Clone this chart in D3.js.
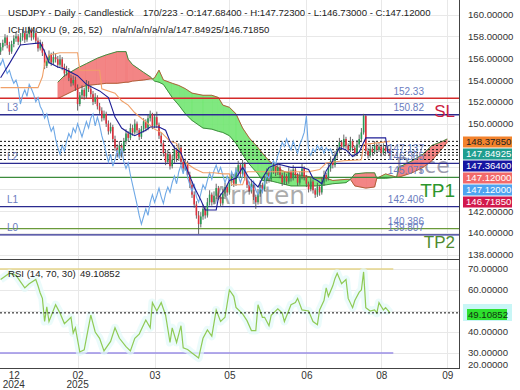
<!DOCTYPE html>
<html><head><meta charset="utf-8">
<script src="https://cdn.jsdelivr.net/npm/d3@7/dist/d3.min.js"></script>
<style>body{margin:0;background:#fff}svg{display:block;font-family:"Liberation Sans",Arial,sans-serif}</style>
</head><body><svg id="c" width="520" height="390"></svg>
<script>
// ---------- DATA ----------
const opens=[156.6,157.0,157.4,157.9,157.2,156.6,157.3,157.8,158.0,157.5,
157.9,158.3,157.7,158.2,158.6,157.9,158.3,157.6,156.9,157.3,
156.5,155.3,155.8,156.3,155.6,156.1,155.9,155.4,155.9,155.2,
154.6,154.9,154.2,153.7,154.0,153.3,151.8,152.6,153.1,152.5,
153.6,153.2,152.7,152.0,152.4,151.6,151.2,150.5,150.9,150.0,
149.3,149.7,148.6,147.8,147.2,148.0,147.5,148.4,149.1,148.7,
149.6,149.2,150.0,149.4,148.8,149.5,150.2,149.6,150.5,150.9,
149.8,150.6,149.9,148.9,148.2,147.3,146.5,147.2,146.1,146.7,
147.6,146.8,147.8,146.5,145.9,146.4,145.3,144.4,143.5,142.6,
141.6,140.8,141.5,142.2,141.6,142.8,143.5,142.8,143.4,144.1,
143.3,142.7,143.6,144.2,143.7,144.6,145.2,144.5,145.6,146.2,
145.4,146.3,145.1,144.4,143.8,144.5,143.3,142.8,143.6,144.4,
144.0,144.8,145.5,144.9,145.7,146.2,145.5,146.0,145.3,144.6,
145.2,144.7,145.6,145.0,145.8,145.3,144.6,145.2,145.9,145.1,
144.5,144.0,144.7,143.9,143.5,144.2,143.7,144.6,145.3,145.0,
145.9,146.6,146.2,147.1,147.6,148.3,147.9,148.6,148.0,147.6,
148.4,147.8,147.3,148.1,148.6,149.2,150.7,147.5,147.1,147.7,
147.4,148.0,147.6,147.9,147.3,147.8,147.5,147.684];
const highs=[157.4,157.7,158.2,158.1,157.5,157.6,158.1,158.4,158.2,158.3,
158.6,158.5,158.5,158.9,158.8,158.6,158.5,157.9,157.7,157.5,
156.8,156.1,156.7,156.5,156.6,156.4,156.2,156.3,156.1,155.5,
155.3,155.1,154.5,154.4,154.3,153.6,152.9,153.5,153.3,154.0,
153.9,153.5,153.0,152.8,152.6,151.9,151.5,151.2,151.1,150.3,
150.1,149.9,148.9,148.1,148.4,148.2,148.7,149.5,149.3,150.0,
149.9,150.4,150.2,149.6,149.8,150.5,150.4,150.8,151.2,151.0,
150.9,151.1,150.1,149.2,148.5,147.6,147.6,147.4,147.1,148.0,
147.8,148.2,148.0,146.8,146.8,146.6,145.6,144.7,143.8,142.9,
142.0,141.9,142.6,142.4,143.2,143.9,143.7,143.8,144.5,144.3,
143.6,144.0,144.6,144.4,145.0,145.6,145.4,146.0,146.6,146.4,
146.7,146.5,145.3,144.7,144.9,144.7,143.5,144.0,144.8,144.6,
145.2,145.9,145.7,146.1,146.6,146.4,146.4,146.2,145.5,145.6,
145.4,146.0,145.8,146.2,146.0,145.5,145.6,146.3,146.1,145.3,
144.7,145.1,144.9,144.1,144.6,144.4,145.0,145.7,145.5,146.3,
147.0,146.8,147.5,148.0,148.7,148.5,149.0,148.8,148.2,148.8,
148.6,148.0,148.5,149.0,149.6,150.9,150.8,147.8,148.1,147.9,
148.4,148.2,148.3,148.1,148.2,148.0,148.0,147.723];
const lows=[156.3,156.7,157.1,156.9,156.3,156.4,157.0,157.5,157.2,157.2,
157.6,157.4,157.5,157.9,157.6,157.7,157.3,156.6,156.7,156.2,
155.0,155.1,155.5,155.3,155.4,155.6,155.1,155.2,154.9,154.3,
154.4,153.9,153.4,153.5,153.0,151.2,151.6,152.3,152.2,152.3,
152.9,152.4,151.7,151.8,151.3,150.9,150.2,150.3,149.7,149.0,
149.1,148.3,147.5,146.9,147.0,146.9,147.3,148.1,148.4,148.5,
148.9,149.0,149.1,148.5,148.6,149.2,149.3,149.4,150.2,149.5,
149.6,149.6,148.6,147.9,147.0,146.2,146.3,145.8,145.9,146.4,
146.5,146.6,146.2,145.6,145.7,145.0,144.1,143.2,142.3,141.3,
139.9,140.5,141.2,141.3,141.4,142.5,142.5,142.6,143.1,143.0,
142.4,142.5,143.3,143.4,143.5,144.3,144.2,144.3,145.3,145.1,
145.2,144.8,144.1,143.5,143.6,143.0,142.2,142.6,143.3,143.7,
143.8,144.5,144.6,144.7,145.4,145.2,145.3,145.0,144.3,144.4,
144.4,144.5,144.7,144.8,145.0,144.3,144.4,144.9,144.8,144.2,
143.7,143.8,143.6,143.2,143.3,143.4,143.5,144.3,144.7,144.8,
145.6,145.9,146.0,146.8,147.3,147.6,147.7,147.7,147.3,147.4,
147.5,147.0,147.1,147.8,148.3,149.0,147.2,146.8,146.9,147.1,
147.2,147.3,147.4,147.0,147.1,147.2,147.3,146.73];
const closes=[157.0,157.4,157.9,157.2,156.6,157.3,157.8,158.0,157.5,157.9,
158.3,157.7,158.2,158.6,157.9,158.3,157.6,156.9,157.3,156.5,
155.3,155.8,156.3,155.6,156.1,155.9,155.4,155.9,155.2,154.6,
154.9,154.2,153.7,154.0,153.3,151.8,152.6,153.1,152.5,153.6,
153.2,152.7,152.0,152.4,151.6,151.2,150.5,150.9,150.0,149.3,
149.7,148.6,147.8,147.2,148.0,147.5,148.4,149.1,148.7,149.6,
149.2,150.0,149.4,148.8,149.5,150.2,149.6,150.5,150.9,149.8,
150.6,149.9,148.9,148.2,147.3,146.5,147.2,146.1,146.7,147.6,
146.8,147.8,146.5,145.9,146.4,145.3,144.4,143.5,142.6,141.6,
140.8,141.5,142.2,141.6,142.8,143.5,142.8,143.4,144.1,143.3,
142.7,143.6,144.2,143.7,144.6,145.2,144.5,145.6,146.2,145.4,
146.3,145.1,144.4,143.8,144.5,143.3,142.8,143.6,144.4,144.0,
144.8,145.5,144.9,145.7,146.2,145.5,146.0,145.3,144.6,145.2,
144.7,145.6,145.0,145.8,145.3,144.6,145.2,145.9,145.1,144.5,
144.0,144.7,143.9,143.5,144.2,143.7,144.6,145.3,145.0,145.9,
146.6,146.2,147.1,147.6,148.3,147.9,148.6,148.0,147.6,148.4,
147.8,147.3,148.1,148.6,149.2,150.7,147.5,147.1,147.7,147.4,
148.0,147.6,147.9,147.3,147.8,147.5,147.68,147.12];

// Ichimoku lines: [bar index, value]
const tenkan=[[0,154.2],[4,155.5],[9,157.2],[13,157.3],[18,157.4],[20,156.6],[22,155.6],[26,155.2],[29,155.0],[35,154.4],[39,153.6],[45,153.0],[49,152.4],[52,150.6],[55,149.6],[58,149.2],[61,148.9],[66,149.4],[68,149.7],[72,149.7],[75,149.4],[77,148.4],[79,147.8],[82,147.3],[84,146.2],[86,145.2],[88,144.2],[91,143.0],[93,142.1],[98,142.1],[99,143.2],[102,144.0],[104,144.8],[107,145.0],[110,146.0],[113,145.0],[117,144.2],[119,145.0],[122,146.0],[126,146.3],[132,146.0],[137,146.0],[140,145.8],[142,145.0],[144,144.8],[146,144.5],[148,145.7],[151,146.6],[154,147.8],[157,147.6],[160,147.0],[163,147.4],[166,148.7],[169,148.7],[175,148.7],[176,147.4],[177,147.364]];
const kijun=[[0,153.3],[17,153.3],[19,154.3],[20,155.5],[22,156.3],[27,156.5],[35,156.5],[36,154.9],[45,154.9],[46,153.2],[52,152.8],[55,152.1],[58,151.7],[61,151.0],[64,150.5],[67,150.0],[70,149.5],[73,149.2],[77,148.4],[80,148.2],[82,146.9],[85,146.3],[88,145.9],[92,145.5],[97,145.5],[101,145.4],[104,145.4],[105,144.4],[110,144.4],[112,145.6],[140,145.6],[145,145.8],[148,146.4],[156,146.6],[164,146.7],[165,148.1],[177,148.378]];
const senkouIdx=[26,29,35,39,44,48,53,57,58,60,65,68,69,70,72,74,78,81,84,87,92,96,99,101,104,107,110,113,117,119,122,126,128,132,139,144,148,151,157,159,161,166,170,171,175,180,181,187,192,196,201,203];
const senkouA=[152.3,152.6,153.2,153.5,153.6,153.7,153.7,153.8,153.8,153.9,154.0,154.1,154.1,154.2,154.9,154.0,153.7,153.5,153.2,152.8,152.6,152.6,152.4,151.7,151.5,150.9,149.6,148.7,147.8,147.3,146.6,146.0,145.7,145.4,145.2,145.0,145.0,144.8,144.9,144.9,144.3,144.1,144.2,145.0,145.4,145.1,145.1,145.5,146.0,146.6,147.8,148.3];
const senkouB=[153.8,154.4,155.1,155.5,156.0,156.3,156.6,156.6,155.9,155.4,154.7,154.3,154.1,153.9,153.8,153.6,152.4,151.7,150.9,150.3,149.6,149.5,149.3,149.2,148.9,148.2,147.2,146.3,145.4,144.8,144.8,144.6,144.5,144.3,144.3,144.3,144.4,144.5,144.6,144.9,145.4,145.5,145.5,145.0,145.0,145.1,146.0,146.6,147.2,148.0,148.4,148.6];

const rsi=[[0,65],[4,68],[7,67],[9,64],[11,61],[13,63],[16,65],[17,62],[18,58.6],[19,56],[20,45],[21,52],[22,45],[25,53],[27,49],[29,44],[32,47],[33,39.5],[34,42],[36,30.5],[38,31.5],[41,48],[43,40],[45,37],[47,31],[50,35.5],[52,42],[54,37],[57,33],[59,31],[61,37],[63,39],[66,45.7],[68,42],[69,54],[71,50],[73,54],[75,48],[77,35],[78,42],[80,35],[82,43],[83,32.5],[85,31.7],[87,30],[90,27.6],[92,37],[94,41],[96,38],[98,50.5],[100,45],[102,47],[104,60],[106,57],[107,51.7],[110,48.6],[112,45.4],[114,40.7],[116,40.7],[117,53],[119,47],[120,47],[122,43],[123,48],[126,51],[128,49],[129,45],[132,53],[134,54],[135,56],[137,50.5],[140,50],[142,45],[144,43.5],[145,50.5],[147,55],[148,61],[149,57],[151,62],[152,65.5],[153,68],[155,63],[157,65],[158,56],[160,51.6],[161,55],[163,59],[164,60],[165,68.6],[166,51.6],[168,50],[170,50.5],[171,49],[172,54],[174,50.5],[175,51.6],[177,49.10852]];

const priceTicks=[160,158,156,154,152,150,148,146,144,142,140,138];
const priceLabelTicks=[160,158,156,154,152,150,142,140,138];
const rsiTicks=[70,60,50,40,30];
const rsiLabelTicks=[70,60,40,30,20];
const xTickIdx=[6,35,70,104,139,173,203];
const monthLabels=["12","02","03","05","06","08","09"];
const yearLabels=["2024","2025","","","","",""];
const levelValues=[152.33,150.82,146.365,145.075,142.406,140.386,139.807];
const levelTexts=["152.33","150.82","146.365","145.075","142.406","140.386","139.807"];
const leftTags=["","L3","L2","","L1","","L0"];
const sideTags=["SL","","","TP1","","TP2",""];
const dottedLevels=[148.38,148.0,147.62,147.364,147.12,146.7185];
const tagValues=[148.3785,147.84925,147.364,147.12,147.12,146.7185];
const rsiLast=49.10852;

// ---------- DRAW ----------
const svg=d3.select("#c");
const W=459;
const x=d3.scaleLinear().domain([0,208]).range([0.6,458.2]);
const yP=d3.scaleLinear().domain([138,160]).range([254.7,14.5]);
const yR=d3.scaleLinear().domain([30,70]).range([353,269]);
const defs=svg.append("defs");
defs.append("clipPath").attr("id","cm").append("rect").attr("x",0).attr("y",0).attr("width",W).attr("height",259);
defs.append("clipPath").attr("id","cr").append("rect").attr("x",0).attr("y",260).attr("width",W).attr("height",108);

// grid
const grid=svg.append("g").attr("stroke","#e8e8e8").attr("stroke-width",1);
priceTicks.forEach(p=>grid.append("line").attr("x1",0).attr("x2",W).attr("y1",Math.round(yP(p))+0.5).attr("y2",Math.round(yP(p))+0.5));
rsiTicks.forEach(v=>grid.append("line").attr("x1",0).attr("x2",W).attr("y1",Math.round(yR(v))+0.5).attr("y2",Math.round(yR(v))+0.5));
xTickIdx.slice(1).forEach(i=>grid.append("line").attr("x1",Math.round(x(i))+0.5).attr("x2",Math.round(x(i))+0.5).attr("y1",0).attr("y2",368));

const m=svg.append("g").attr("clip-path","url(#cm)");

// watermark under the cloud
m.append("text").attr("x",396).attr("y",173).attr("font-size",22).attr("font-family","DejaVu Sans").attr("fill","rgba(115,115,140,0.7)").text("Price");

// cloud
const cloud=m.append("g");
for(let k=0;k<senkouIdx.length-1;k++){
  const i0=senkouIdx[k],i1=senkouIdx[k+1];
  const a0=senkouA[k],a1=senkouA[k+1],b0=senkouB[k],b1=senkouB[k+1];
  const up=(a0+a1)>=(b0+b1);
  const col=up?"#72e672":"#f27878";
  cloud.append("path").attr("d",`M${x(i0)},${yP(a0)}L${x(i1)},${yP(a1)}L${x(i1)},${yP(b1)}L${x(i0)},${yP(b0)}Z`)
    .attr("fill",col).attr("fill-opacity",0.9).attr("stroke",col).attr("stroke-width",0.5).attr("stroke-opacity",0.9);
}
const sLine=d3.line().x(d=>x(d[0])).y(d=>yP(d[1]));
m.append("path").attr("d",sLine(senkouIdx.map((i,k)=>[i,senkouA[k]]))).attr("fill","none").attr("stroke","#b0603a").attr("stroke-width",1);
m.append("path").attr("d",sLine(senkouIdx.map((i,k)=>[i,senkouB[k]]))).attr("fill","none").attr("stroke","#3f8f3f").attr("stroke-width",1);

// level lines
const levelColors=["#d42a2a","#2b2b8f","#2b2b8f","#3c8c3c","#2b2b8f","#6a9a3a","#2b2b8f"];
levelValues.forEach((p,k)=>{
  m.append("line").attr("x1",0).attr("x2",W).attr("y1",yP(p)).attr("y2",yP(p)).attr("stroke",levelColors[k]).attr("stroke-width",1.3);
});
// dotted lines
dottedLevels.forEach(p=>m.append("line").attr("x1",0).attr("x2",W).attr("y1",yP(p)).attr("y2",yP(p)).attr("stroke","#111").attr("stroke-width",1).attr("stroke-dasharray","2,2"));

// candles
const cg=m.append("g");
closes.forEach((c,i)=>{
  const o=opens[i],h=highs[i],l=lows[i];
  const up=c>=o;
  cg.append("line").attr("x1",x(i)).attr("x2",x(i)).attr("y1",yP(h)).attr("y2",yP(l)).attr("stroke","#555").attr("stroke-width",0.9);
  const yt=yP(Math.max(o,c)),yb=yP(Math.min(o,c));
  cg.append("rect").attr("x",x(i)-0.8).attr("width",1.6).attr("y",yt).attr("height",Math.max(0.8,yb-yt)).attr("fill",up?"#2a9a55":"#e0303c");
});

// ichimoku lines
m.append("path").attr("d",sLine(closes.map((c,i)=>[i-26,c]))).attr("fill","none").attr("stroke","#6ea8e6").attr("stroke-width",1.1);
m.append("path").attr("d",sLine(kijun)).attr("fill","none").attr("stroke","#f0a068").attr("stroke-width",1.1);
m.append("path").attr("d",sLine(tenkan)).attr("fill","none").attr("stroke","#1e1e96").attr("stroke-width",1.1);

// watermark text over candles
m.append("text").attr("x",213).attr("y",204).attr("font-size",25).attr("font-family","DejaVu Sans").attr("fill","rgba(90,90,90,0.5)").text("Arriiten");

// level labels
levelValues.forEach((p,k)=>{
  m.append("text").attr("x",424).attr("y",yP(p)-3.5).attr("text-anchor","end").attr("font-size",10).attr("fill","#6a7cc0").text(levelTexts[k]);
  if(leftTags[k]) m.append("text").attr("x",7).attr("y",yP(p)-3.5).attr("font-size",10).attr("fill","#6a7cc0").text(leftTags[k]);
});
m.append("text").attr("x",424).attr("y",yP(147.12)-3.5).attr("text-anchor","end").attr("font-size",10).attr("fill","#6a7cc0").text("147.137");
const sideColors={"SL":"#cc2040","TP1":"#2c962c","TP2":"#4f8a2e"};
levelValues.forEach((p,k)=>{
  if(sideTags[k]) m.append("text").attr("x",455).attr("y",yP(p)+(k===3?20:19)).attr("text-anchor","end")
    .attr("font-size",k===3?19:17).attr("fill",sideColors[sideTags[k]]).text(sideTags[k]);
});

// title texts
svg.append("text").attr("x",8).attr("y",16).attr("font-size",9.6).attr("fill","#222").text("USDJPY - Daily - Candlestick");
svg.append("text").attr("x",143).attr("y",16).attr("font-size",9.6).attr("fill","#222").text("170/223 - O:147.68400 - H:147.72300 - L:146.73000 - C:147.12000");
svg.append("text").attr("x",8).attr("y",33).attr("font-size",9.6).attr("fill","#222").text("ICHIMOKU (9, 26, 52)");
svg.append("text").attr("x",112).attr("y",33).attr("font-size",9.6).attr("fill","#222").text("n/a/n/a/n/a/n/a/147.84925/146.71850");

// RSI panel
const r=svg.append("g").attr("clip-path","url(#cr)");
r.append("line").attr("x1",0).attr("x2",x(178.5)).attr("y1",yR(70)).attr("y2",yR(70)).attr("stroke","#e4d48a").attr("stroke-width",1.3);
r.append("line").attr("x1",0).attr("x2",x(178.5)).attr("y1",yR(30)).attr("y2",yR(30)).attr("stroke","#9a8ee6").attr("stroke-width",1.3);
const rLine=d3.line().x(d=>x(d[0])).y(d=>yR(d[1]));
r.append("path").attr("d",rLine(rsi)).attr("fill","none").attr("stroke","#e2fafa").attr("stroke-width",8).attr("stroke-opacity",0.7).attr("stroke-linejoin","round");
r.append("path").attr("d",rLine(rsi)).attr("fill","none").attr("stroke","#8fca55").attr("stroke-width",1.2);
r.append("line").attr("x1",0).attr("x2",W).attr("y1",yR(rsiLast)).attr("y2",yR(rsiLast)).attr("stroke","#111").attr("stroke-dasharray","2,2");
svg.append("text").attr("x",8).attr("y",277).attr("font-size",9.6).attr("fill","#222").text("RSI (14, 70, 30)");
svg.append("text").attr("x",80).attr("y",277).attr("font-size",9.6).attr("fill","#222").text(d3.format(".5f")(rsiLast));

// frame lines
svg.append("line").attr("x1",0).attr("x2",W+0.5).attr("y1",259.5).attr("y2",259.5).attr("stroke","#444");
svg.append("line").attr("x1",0).attr("x2",W+0.5).attr("y1",368.5).attr("y2",368.5).attr("stroke","#444");
svg.append("line").attr("x1",W+0.5).attr("x2",W+0.5).attr("y1",0).attr("y2",369).attr("stroke","#444");

// price axis (labels hidden by the value tags are not drawn)
const pa=svg.append("g").attr("transform",`translate(${W+1},0)`)
  .call(d3.axisRight(yP).tickValues(priceLabelTicks).tickFormat(d3.format(".5f")).tickSize(0).tickPadding(8));
pa.select(".domain").remove();
pa.selectAll("text").attr("font-size",9.6).attr("fill","#333").attr("font-family","Liberation Sans, Arial, sans-serif");
// rsi axis
rsiLabelTicks.forEach(v=>svg.append("text").attr("x",W+9).attr("y",Math.min(yR(v),365)+3.4).attr("font-size",9.6).attr("fill","#333").text(d3.format(".5f")(v)));

// value tags on axis
const tagBg=["#f2822c","#1f9e8f","#1616a2","#f26a6a","#4ea4f0","#d2184c"];
const tagFg=["#222","#fff","#fff","#fff","#fff","#fff"];
tagValues.forEach((v,k)=>{
  const cy=142+k*12;
  svg.append("rect").attr("x",463).attr("y",cy-5.5).attr("width",49).attr("height",11).attr("fill",tagBg[k]);
  svg.append("text").attr("x",466).attr("y",cy+3.4).attr("font-size",9.6).attr("fill",tagFg[k]).text(d3.format(".5f")(v));
});
svg.append("rect").attr("x",463).attr("y",304).attr("width",49).attr("height",17).attr("fill","#c8f6f6");
svg.append("rect").attr("x",467).attr("y",309).attr("width",40).attr("height",11).attr("fill","#2ee02e");
svg.append("text").attr("x",468).attr("y",318).attr("font-size",9.6).attr("fill","#113311").text(d3.format(".5f")(rsiLast));

// x axis
const xa=svg.append("g").attr("transform","translate(0,368)")
  .call(d3.axisBottom(x).tickValues(xTickIdx).tickFormat((d,i)=>monthLabels[i]).tickSize(0).tickPadding(4));
xa.select(".domain").remove();
xa.selectAll("text").attr("font-size",10).attr("fill","#333").attr("font-family","Liberation Sans, Arial, sans-serif");
xTickIdx.forEach((i,k)=>{ if(yearLabels[k]) svg.append("text").attr("x",x(i)).attr("y",388).attr("text-anchor","middle").attr("font-size",10).attr("fill","#333").text(yearLabels[k]); });
</script></body></html>
